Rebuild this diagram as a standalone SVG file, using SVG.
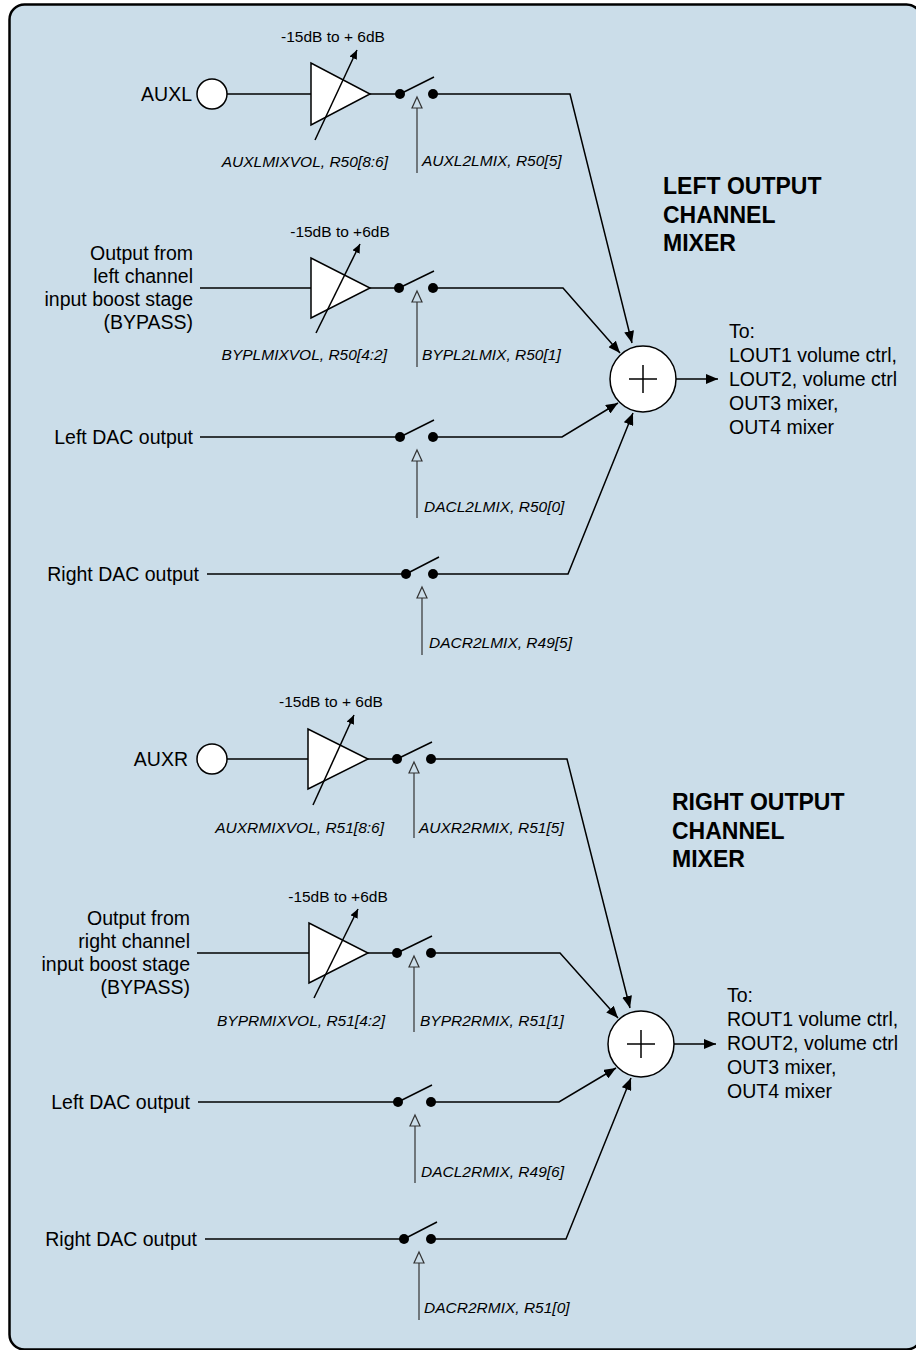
<svg xmlns="http://www.w3.org/2000/svg" width="916" height="1350" viewBox="0 0 916 1350">
<style>
.lbl{font-family:"Liberation Sans",Arial,sans-serif;font-size:19.5px;fill:#000}
.end{text-anchor:end}
.ctl{font-family:"Liberation Sans",Arial,sans-serif;font-size:15.5px;font-style:italic;fill:#000}
.gain{font-family:"Liberation Sans",Arial,sans-serif;font-size:15.5px;fill:#000;text-anchor:middle}
.ttl{font-family:"Liberation Sans",Arial,sans-serif;font-size:23px;font-weight:bold;fill:#000}
.w{stroke:#000;stroke-width:1.5;fill:none}
.amp{fill:#fff;stroke:#000;stroke-width:1.5}
.jn{fill:#fff;stroke:#000;stroke-width:1.5}
.dot{fill:#000}
.cl{stroke:#333;stroke-width:1.2;fill:none}
.ch{fill:#CBDDE9;stroke:#333;stroke-width:1.2}
</style>
<defs>
<marker id="ah" markerUnits="userSpaceOnUse" markerWidth="13" markerHeight="10" refX="12" refY="5" orient="auto">
<path d="M0,0 L12,5 L0,10 z" fill="#000"/>
</marker>
<marker id="ahs" markerUnits="userSpaceOnUse" markerWidth="10" markerHeight="8" refX="9" refY="4" orient="auto">
<path d="M0,0 L9,4 L0,8 z" fill="#000"/>
</marker>
</defs>
<rect x="0" y="0" width="916" height="1350" fill="#fff"/>
<rect x="9.5" y="4.5" width="912" height="1345" rx="15" fill="#CBDDE9" stroke="#000" stroke-width="2.5"/>

<g id="connectors">
<!-- left section -->
<line class="w" x1="227" y1="94" x2="311" y2="94"/>
<line class="w" x1="370" y1="94" x2="400" y2="94"/>
<path class="w" d="M433,94 H570 L632,343" marker-end="url(#ah)"/>
<line class="w" x1="200" y1="288" x2="311" y2="288"/>
<line class="w" x1="370" y1="288" x2="399" y2="288"/>
<path class="w" d="M433,288 H563 L620,353" marker-end="url(#ah)"/>
<line class="w" x1="200" y1="437" x2="400" y2="437"/>
<path class="w" d="M433,437 H562 L618,403" marker-end="url(#ah)"/>
<line class="w" x1="207" y1="574" x2="406" y2="574"/>
<path class="w" d="M433,574 H568 L633,413" marker-end="url(#ah)"/>
<line class="w" x1="676" y1="379" x2="718" y2="379" marker-end="url(#ah)"/>
<!-- right section -->
<line class="w" x1="227" y1="759" x2="308" y2="759"/>
<line class="w" x1="368" y1="759" x2="397" y2="759"/>
<path class="w" d="M431,759 H567 L630,1008" marker-end="url(#ah)"/>
<line class="w" x1="197" y1="953" x2="309" y2="953"/>
<line class="w" x1="368" y1="953" x2="397" y2="953"/>
<path class="w" d="M431,953 H560 L618,1018" marker-end="url(#ah)"/>
<line class="w" x1="198" y1="1102" x2="398" y2="1102"/>
<path class="w" d="M431,1102 H559 L616,1068" marker-end="url(#ah)"/>
<line class="w" x1="205" y1="1239" x2="404" y2="1239"/>
<path class="w" d="M431,1239 H566 L631,1078" marker-end="url(#ah)"/>
<line class="w" x1="674" y1="1044" x2="716" y2="1044" marker-end="url(#ah)"/>
</g>

<!-- LEFT SECTION -->
<g id="auxl-in">
<text class="lbl end" x="192" y="101">AUXL</text>
<circle cx="212" cy="94" r="15" fill="#fff" stroke="#000" stroke-width="1.5"/>
</g>
<g id="auxl-vol">
<polygon class="amp" points="311,63 311,125 370,94"/>
<line class="w" x1="315" y1="140" x2="357" y2="50" marker-end="url(#ahs)"/>
<text class="gain" x="333" y="42">-15dB to + 6dB</text>
<text class="ctl end" x="388" y="167">AUXLMIXVOL, R50[8:6]</text>
</g>
<g id="auxl2lmix">
<circle class="dot" cx="400" cy="94" r="5"/><circle class="dot" cx="433" cy="94" r="5"/>
<line class="w" x1="400" y1="94" x2="434" y2="77"/>
<polygon class="ch" points="417,97 422,108 412,108"/>
<line class="cl" x1="417" y1="108" x2="417" y2="173"/>
<text class="ctl" x="422" y="166">AUXL2LMIX, R50[5]</text>
</g>

<g id="bypl-in">
<text class="lbl end" x="193" y="260">Output from</text>
<text class="lbl end" x="193" y="283">left channel</text>
<text class="lbl end" x="193" y="306">input boost stage</text>
<text class="lbl end" x="193" y="329">(BYPASS)</text>
</g>
<g id="bypl-vol">
<polygon class="amp" points="311,258 311,318 370,288"/>
<line class="w" x1="316" y1="333" x2="360" y2="244" marker-end="url(#ahs)"/>
<text class="gain" x="340" y="237">-15dB to +6dB</text>
<text class="ctl end" x="387" y="360">BYPLMIXVOL, R50[4:2]</text>
</g>
<g id="bypl2lmix">
<circle class="dot" cx="399" cy="288" r="5"/><circle class="dot" cx="433" cy="288" r="5"/>
<line class="w" x1="399" y1="288" x2="434" y2="271"/>
<polygon class="ch" points="417,291 422,302 412,302"/>
<line class="cl" x1="417" y1="302" x2="417" y2="367"/>
<text class="ctl" x="422" y="360">BYPL2LMIX, R50[1]</text>
</g>

<g id="dacl-in">
<text class="lbl end" x="193" y="444">Left DAC output</text>
</g>
<g id="dacl2lmix">
<circle class="dot" cx="400" cy="437" r="5"/><circle class="dot" cx="433" cy="437" r="5"/>
<line class="w" x1="400" y1="437" x2="434" y2="420"/>
<polygon class="ch" points="417,450 422,461 412,461"/>
<line class="cl" x1="417" y1="461" x2="417" y2="518"/>
<text class="ctl" x="424" y="512">DACL2LMIX, R50[0]</text>
</g>

<g id="dacr-in">
<text class="lbl end" x="199" y="581">Right DAC output</text>
</g>
<g id="dacr2lmix">
<circle class="dot" cx="406" cy="574" r="5"/><circle class="dot" cx="433" cy="574" r="5"/>
<line class="w" x1="406" y1="574" x2="439" y2="557"/>
<polygon class="ch" points="422,587 427,598 417,598"/>
<line class="cl" x1="422" y1="598" x2="422" y2="655"/>
<text class="ctl" x="429" y="648">DACR2LMIX, R49[5]</text>
</g>

<g id="left-mixer">
<circle class="jn" cx="643" cy="379" r="33"/>
<line class="w" x1="629" y1="379" x2="657" y2="379" stroke-width="1.2"/>
<line class="w" x1="643" y1="365" x2="643" y2="393" stroke-width="1.2"/>
</g>
<g id="left-title">
<text class="ttl" x="663" y="194">LEFT OUTPUT</text>
<text class="ttl" x="663" y="223">CHANNEL</text>
<text class="ttl" x="663" y="251">MIXER</text>
</g>
<g id="left-dest">
<text class="lbl" x="729" y="338">To:</text>
<text class="lbl" x="729" y="362">LOUT1 volume ctrl,</text>
<text class="lbl" x="729" y="386">LOUT2, volume ctrl</text>
<text class="lbl" x="729" y="410">OUT3 mixer,</text>
<text class="lbl" x="729" y="434">OUT4 mixer</text>
</g>

<!-- RIGHT SECTION -->
<g id="auxr-in">
<text class="lbl end" x="188" y="766">AUXR</text>
<circle cx="212" cy="759" r="15" fill="#fff" stroke="#000" stroke-width="1.5"/>
</g>
<g id="auxr-vol">
<polygon class="amp" points="308,729 308,789 368,759"/>
<line class="w" x1="313" y1="805" x2="354" y2="715" marker-end="url(#ahs)"/>
<text class="gain" x="331" y="707">-15dB to + 6dB</text>
<text class="ctl end" x="384" y="833">AUXRMIXVOL, R51[8:6]</text>
</g>
<g id="auxr2rmix">
<circle class="dot" cx="397" cy="759" r="5"/><circle class="dot" cx="431" cy="759" r="5"/>
<line class="w" x1="397" y1="759" x2="432" y2="742"/>
<polygon class="ch" points="414,762 419,773 409,773"/>
<line class="cl" x1="414" y1="773" x2="414" y2="838"/>
<text class="ctl" x="419" y="833">AUXR2RMIX, R51[5]</text>
</g>

<g id="bypr-in">
<text class="lbl end" x="190" y="925">Output from</text>
<text class="lbl end" x="190" y="948">right channel</text>
<text class="lbl end" x="190" y="971">input boost stage</text>
<text class="lbl end" x="190" y="994">(BYPASS)</text>
</g>
<g id="bypr-vol">
<polygon class="amp" points="309,923 309,983 368,953"/>
<line class="w" x1="314" y1="998" x2="358" y2="909" marker-end="url(#ahs)"/>
<text class="gain" x="338" y="902">-15dB to +6dB</text>
<text class="ctl end" x="385" y="1026">BYPRMIXVOL, R51[4:2]</text>
</g>
<g id="bypr2rmix">
<circle class="dot" cx="397" cy="953" r="5"/><circle class="dot" cx="431" cy="953" r="5"/>
<line class="w" x1="397" y1="953" x2="432" y2="936"/>
<polygon class="ch" points="414,956 419,967 409,967"/>
<line class="cl" x1="414" y1="967" x2="414" y2="1032"/>
<text class="ctl" x="420" y="1026">BYPR2RMIX, R51[1]</text>
</g>

<g id="dacl-in-r">
<text class="lbl end" x="190" y="1109">Left DAC output</text>
</g>
<g id="dacl2rmix">
<circle class="dot" cx="398" cy="1102" r="5"/><circle class="dot" cx="431" cy="1102" r="5"/>
<line class="w" x1="398" y1="1102" x2="432" y2="1085"/>
<polygon class="ch" points="415,1115 420,1126 410,1126"/>
<line class="cl" x1="415" y1="1126" x2="415" y2="1183"/>
<text class="ctl" x="421" y="1177">DACL2RMIX, R49[6]</text>
</g>

<g id="dacr-in-r">
<text class="lbl end" x="197" y="1246">Right DAC output</text>
</g>
<g id="dacr2rmix">
<circle class="dot" cx="404" cy="1239" r="5"/><circle class="dot" cx="431" cy="1239" r="5"/>
<line class="w" x1="404" y1="1239" x2="437" y2="1222"/>
<polygon class="ch" points="419,1252 424,1263 414,1263"/>
<line class="cl" x1="419" y1="1263" x2="419" y2="1320"/>
<text class="ctl" x="424" y="1313">DACR2RMIX, R51[0]</text>
</g>

<g id="right-mixer">
<circle class="jn" cx="641" cy="1044" r="33"/>
<line class="w" x1="627" y1="1044" x2="655" y2="1044" stroke-width="1.2"/>
<line class="w" x1="641" y1="1030" x2="641" y2="1058" stroke-width="1.2"/>
</g>
<g id="right-title">
<text class="ttl" x="672" y="810">RIGHT OUTPUT</text>
<text class="ttl" x="672" y="839">CHANNEL</text>
<text class="ttl" x="672" y="867">MIXER</text>
</g>
<g id="right-dest">
<text class="lbl" x="727" y="1002">To:</text>
<text class="lbl" x="727" y="1026">ROUT1 volume ctrl,</text>
<text class="lbl" x="727" y="1050">ROUT2, volume ctrl</text>
<text class="lbl" x="727" y="1074">OUT3 mixer,</text>
<text class="lbl" x="727" y="1098">OUT4 mixer</text>
</g>
</svg>
